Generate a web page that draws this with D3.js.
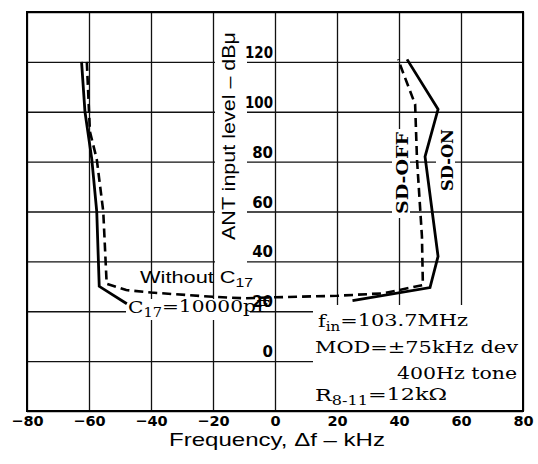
<!DOCTYPE html>
<html>
<head>
<meta charset="utf-8">
<script src="https://cdn.jsdelivr.net/npm/d3@7"></script>
<style>
  body { margin: 0; background: #fff; }
  svg { font-family: "Liberation Sans", Arial, sans-serif; }
</style>
</head>
<body>
<svg id="chart" width="538" height="464"></svg>
<script>
// tick values
var xTicks = [-80, -60, -40, -20, 0, 20, 40, 60, 80];
var yGrid = [-20, 0, 20, 40, 60, 80, 100, 120, 140];
var yLabels = [0, 20, 40, 60, 80, 100, 120];

// solid curve (C17 = 10000pF / SD-ON), frequency kHz and level dBu
var solidLeftF = [-62.4, -61.3, -59.1, -57.5, -56.7, -47.8];
var solidLeftL = [120, 100, 81, 60, 30, 23];
var solidRightF = [25, 50, 52.6, 48.4, 52.6, 42.6];
var solidRightL = [24.3, 29.5, 42, 82, 101, 121];

// dashed curve (without C17 / SD-OFF)
var dashF = [-60.7, -59.7, -57.5, -55.4, -54.3, -48, -40, -20, -10, 0, 20, 35, 47.7, 47.4, 45.8, 45.2, 39.7];
var dashL = [120, 92, 81, 60, 31, 28.5, 27.5, 25.8, 25.2, 25.6, 26.2, 27.2, 30.5, 50, 81, 103, 121];

var svg = d3.select("#chart");

var pL = 27, pR = 523, pT = 12, pB = 411;
var x = d3.scaleLinear().domain([-80, 80]).range([pL, pR]);
var y = d3.scaleLinear().domain([-20, 140]).range([pB, pT]);

// grid
svg.append("g")
  .attr("transform", "translate(0," + pB + ")")
  .call(d3.axisBottom(x).tickValues(xTicks).tickSize(-(pB - pT)).tickFormat(""));
svg.append("g")
  .attr("transform", "translate(" + pL + ",0)")
  .call(d3.axisLeft(y).tickValues(yGrid).tickSize(-(pR - pL)).tickFormat(""));
svg.selectAll(".domain").remove();
svg.selectAll(".tick line").attr("stroke", "#111").attr("stroke-width", 1.3);

// white patches behind the labels
function mask(x0, y0, x1, y1) {
  svg.append("rect").attr("x", x0).attr("y", y0)
    .attr("width", x1 - x0).attr("height", y1 - y0).attr("fill", "#fff");
}
mask(215, 22, 247, 266);   // ANT input level
mask(126, 299, 250, 320);  // C17 = 10000pF
mask(313, 305, 522, 410);  // conditions
mask(392, 129, 410, 218);  // SD-OFF
mask(436, 125, 455, 194);  // SD-ON

// frame
svg.append("rect")
  .attr("x", pL).attr("y", pT)
  .attr("width", pR - pL).attr("height", pB - pT)
  .attr("fill", "none").attr("stroke", "#000").attr("stroke-width", 2);

// x tick labels
var ax = svg.append("g")
  .attr("transform", "translate(0," + pB + ")")
  .call(d3.axisBottom(x).tickValues(xTicks).tickSize(0).tickPadding(5)
    .tickFormat(function (d) { return d < 0 ? "\u2212" + Math.abs(d) : d; }));
ax.select(".domain").remove();
ax.selectAll("text")
  .attr("font-family", "DejaVu Sans")
  .attr("font-weight", "bold")
  .attr("font-size", 14.5)
  .attr("fill", "#000");

// y tick labels, sitting on the lines just left of 0 kHz
var ay = svg.append("g")
  .attr("transform", "translate(" + (x(0) - 1) + ",0)")
  .call(d3.axisLeft(y).tickValues(yLabels).tickSize(0).tickPadding(1));
ay.select(".domain").remove();
ay.selectAll("text")
  .attr("dy", "-0.3em")
  .attr("font-family", "DejaVu Sans")
  .attr("font-weight", "bold")
  .attr("font-size", 15)
  .attr("fill", "#000");
ay.selectAll("text").filter(function (d) { return d >= 100; })
  .attr("textLength", 28).attr("lengthAdjust", "spacingAndGlyphs");

// curves
var line = d3.line()
  .x(function (d) { return x(d[0]); })
  .y(function (d) { return y(d[1]); });

svg.append("path")
  .datum(d3.zip(dashF, dashL))
  .attr("d", line)
  .attr("fill", "none").attr("stroke", "#000")
  .attr("stroke-width", 2.6).attr("stroke-dasharray", "9,5");

svg.append("path")
  .datum(d3.zip(solidLeftF, solidLeftL))
  .attr("d", line)
  .attr("fill", "none").attr("stroke", "#000").attr("stroke-width", 2.8);

svg.append("path")
  .datum(d3.zip(solidRightF, solidRightL))
  .attr("d", line)
  .attr("fill", "none").attr("stroke", "#000").attr("stroke-width", 2.8);

// axis titles
svg.append("text")
  .attr("x", 277).attr("y", 446)
  .attr("text-anchor", "middle")
  .attr("font-size", 19)
  .attr("textLength", 216).attr("lengthAdjust", "spacingAndGlyphs")
  .text("Frequency, \u0394f \u2013 kHz");

svg.append("text")
  .attr("transform", "translate(235,136) rotate(-90)")
  .attr("text-anchor", "middle")
  .attr("font-size", 18)
  .attr("textLength", 208).attr("lengthAdjust", "spacingAndGlyphs")
  .text("ANT input level \u2013 dB\u03bc");

// curve labels
function sub(t, main, s, rest) {
  t.append("tspan").text(main);
  t.append("tspan").attr("dy", "0.3em").attr("font-size", "0.72em").text(s);
  t.append("tspan").attr("dy", "-0.3em").text(rest);
  return t;
}

sub(svg.append("text")
  .attr("x", 140).attr("y", 283)
  .attr("font-size", 17)
  .attr("textLength", 113).attr("lengthAdjust", "spacingAndGlyphs"),
  "Without C", "17", "");

var serif = "DejaVu Serif";

sub(svg.append("text")
  .attr("x", 128).attr("y", 313)
  .attr("font-family", serif).attr("font-size", 17)
  .attr("textLength", 142).attr("lengthAdjust", "spacingAndGlyphs"),
  "C", "17", "=10000pF");

svg.append("text")
  .attr("transform", "translate(408,173) rotate(-90)")
  .attr("text-anchor", "middle")
  .attr("font-family", serif).attr("font-size", 16.5)
  .attr("font-weight", "bold")
  .attr("textLength", 82).attr("lengthAdjust", "spacingAndGlyphs")
  .text("SD-OFF");

svg.append("text")
  .attr("transform", "translate(453,160) rotate(-90)")
  .attr("text-anchor", "middle")
  .attr("font-family", serif).attr("font-size", 16.5)
  .attr("font-weight", "bold")
  .attr("textLength", 62).attr("lengthAdjust", "spacingAndGlyphs")
  .text("SD-ON");

// conditions
sub(svg.append("text")
  .attr("x", 318).attr("y", 327)
  .attr("font-family", serif).attr("font-size", 17)
  .attr("textLength", 150).attr("lengthAdjust", "spacingAndGlyphs"),
  "f", "in", "=103.7MHz");

svg.append("text")
  .attr("x", 315).attr("y", 353)
  .attr("font-family", serif).attr("font-size", 17)
  .attr("textLength", 203).attr("lengthAdjust", "spacingAndGlyphs")
  .text("MOD=\u00b175kHz dev");

svg.append("text")
  .attr("x", 397).attr("y", 379)
  .attr("font-family", serif).attr("font-size", 17)
  .attr("textLength", 120).attr("lengthAdjust", "spacingAndGlyphs")
  .text("400Hz  tone");

sub(svg.append("text")
  .attr("x", 315).attr("y", 401)
  .attr("font-family", serif).attr("font-size", 17)
  .attr("textLength", 132).attr("lengthAdjust", "spacingAndGlyphs"),
  "R", "8-11", "=12k\u03a9");
</script>
</body>
</html>
